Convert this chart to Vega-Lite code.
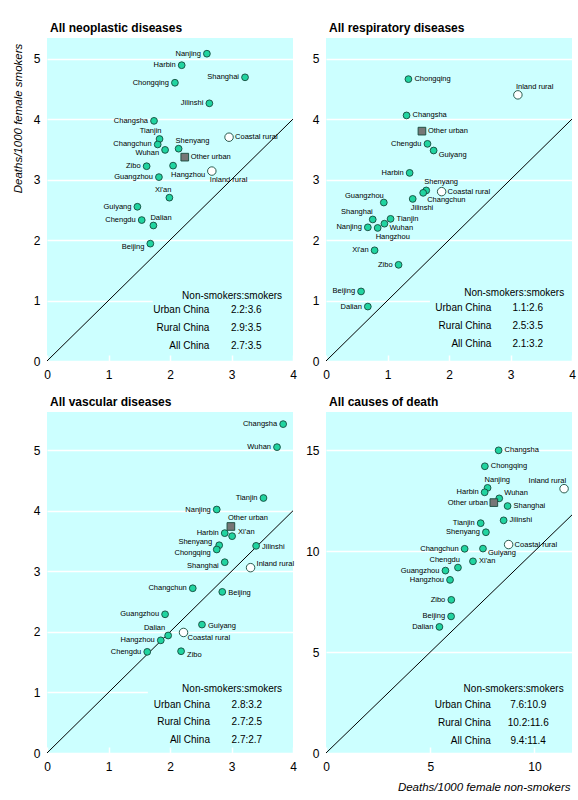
{
  "$schema": "https://vega.github.io/schema/vega-lite/v6.json",
  "padding": {"left": 12, "top": 22, "right": 5, "bottom": 5},
  "background": "#ffffff",
  "datasets": {
    "pts": [
      {"p": "neo", "name": "Nanjing", "type": "city", "x": 2.60, "y": 5.08},
      {"p": "neo", "name": "Harbin", "type": "city", "x": 2.19, "y": 4.89},
      {"p": "neo", "name": "Chongqing", "type": "city", "x": 2.08, "y": 4.60},
      {"p": "neo", "name": "Shanghai", "type": "city", "x": 3.22, "y": 4.69},
      {"p": "neo", "name": "Jilinshi", "type": "city", "x": 2.64, "y": 4.26},
      {"p": "neo", "name": "Changsha", "type": "city", "x": 1.74, "y": 3.97},
      {"p": "neo", "name": "Tianjin", "type": "city", "x": 1.83, "y": 3.67},
      {"p": "neo", "name": "Changchun", "type": "city", "x": 1.80, "y": 3.58},
      {"p": "neo", "name": "Wuhan", "type": "city", "x": 1.92, "y": 3.49},
      {"p": "neo", "name": "Shenyang", "type": "city", "x": 2.14, "y": 3.51},
      {"p": "neo", "name": "Other urban", "type": "other", "x": 2.24, "y": 3.37},
      {"p": "neo", "name": "Coastal rural", "type": "rural", "x": 2.96, "y": 3.70},
      {"p": "neo", "name": "Zibo", "type": "city", "x": 1.62, "y": 3.22},
      {"p": "neo", "name": "Hangzhou", "type": "city", "x": 2.05, "y": 3.23},
      {"p": "neo", "name": "Inland rural", "type": "rural", "x": 2.68, "y": 3.14},
      {"p": "neo", "name": "Guangzhou", "type": "city", "x": 1.82, "y": 3.04},
      {"p": "neo", "name": "Xi'an", "type": "city", "x": 1.99, "y": 2.70},
      {"p": "neo", "name": "Guiyang", "type": "city", "x": 1.47, "y": 2.55},
      {"p": "neo", "name": "Chengdu", "type": "city", "x": 1.54, "y": 2.33},
      {"p": "neo", "name": "Dalian", "type": "city", "x": 1.73, "y": 2.24},
      {"p": "neo", "name": "Beijing", "type": "city", "x": 1.68, "y": 1.94},

      {"p": "resp", "name": "Chongqing", "type": "city", "x": 1.34, "y": 4.66},
      {"p": "resp", "name": "Inland rural", "type": "rural", "x": 3.12, "y": 4.40},
      {"p": "resp", "name": "Changsha", "type": "city", "x": 1.31, "y": 4.06},
      {"p": "resp", "name": "Other urban", "type": "other", "x": 1.56, "y": 3.80},
      {"p": "resp", "name": "Chengdu", "type": "city", "x": 1.65, "y": 3.59},
      {"p": "resp", "name": "Guiyang", "type": "city", "x": 1.75, "y": 3.48},
      {"p": "resp", "name": "Harbin", "type": "city", "x": 1.36, "y": 3.11},
      {"p": "resp", "name": "Shenyang", "type": "city", "x": 1.63, "y": 2.82},
      {"p": "resp", "name": "Changchun", "type": "city", "x": 1.58, "y": 2.78},
      {"p": "resp", "name": "Coastal rural", "type": "rural", "x": 1.88, "y": 2.80},
      {"p": "resp", "name": "Jilinshi", "type": "city", "x": 1.41, "y": 2.68},
      {"p": "resp", "name": "Guangzhou", "type": "city", "x": 0.94, "y": 2.62},
      {"p": "resp", "name": "Shanghai", "type": "city", "x": 0.76, "y": 2.34},
      {"p": "resp", "name": "Tianjin", "type": "city", "x": 1.05, "y": 2.35},
      {"p": "resp", "name": "Nanjing", "type": "city", "x": 0.68, "y": 2.21},
      {"p": "resp", "name": "Hangzhou", "type": "city", "x": 0.84, "y": 2.20},
      {"p": "resp", "name": "Wuhan", "type": "city", "x": 0.95, "y": 2.27},
      {"p": "resp", "name": "Xi'an", "type": "city", "x": 0.79, "y": 1.83},
      {"p": "resp", "name": "Zibo", "type": "city", "x": 1.18, "y": 1.59},
      {"p": "resp", "name": "Beijing", "type": "city", "x": 0.57, "y": 1.15},
      {"p": "resp", "name": "Dalian", "type": "city", "x": 0.68, "y": 0.90},

      {"p": "vasc", "name": "Changsha", "type": "city", "x": 3.84, "y": 5.43},
      {"p": "vasc", "name": "Wuhan", "type": "city", "x": 3.74, "y": 5.05},
      {"p": "vasc", "name": "Tianjin", "type": "city", "x": 3.52, "y": 4.21},
      {"p": "vasc", "name": "Nanjing", "type": "city", "x": 2.76, "y": 4.02},
      {"p": "vasc", "name": "Other urban", "type": "other", "x": 2.99, "y": 3.74},
      {"p": "vasc", "name": "Harbin", "type": "city", "x": 2.89, "y": 3.63},
      {"p": "vasc", "name": "Xi'an", "type": "city", "x": 3.01, "y": 3.58},
      {"p": "vasc", "name": "Shenyang", "type": "city", "x": 2.80, "y": 3.43},
      {"p": "vasc", "name": "Chongqing", "type": "city", "x": 2.76, "y": 3.36},
      {"p": "vasc", "name": "Jilinshi", "type": "city", "x": 3.40, "y": 3.42},
      {"p": "vasc", "name": "Shanghai", "type": "city", "x": 2.89, "y": 3.15},
      {"p": "vasc", "name": "Inland rural", "type": "rural", "x": 3.31, "y": 3.06},
      {"p": "vasc", "name": "Changchun", "type": "city", "x": 2.37, "y": 2.72},
      {"p": "vasc", "name": "Beijing", "type": "city", "x": 2.85, "y": 2.66},
      {"p": "vasc", "name": "Guangzhou", "type": "city", "x": 1.92, "y": 2.29},
      {"p": "vasc", "name": "Guiyang", "type": "city", "x": 2.52, "y": 2.12},
      {"p": "vasc", "name": "Dalian", "type": "city", "x": 1.97, "y": 1.94},
      {"p": "vasc", "name": "Coastal rural", "type": "rural", "x": 2.22, "y": 1.99},
      {"p": "vasc", "name": "Hangzhou", "type": "city", "x": 1.85, "y": 1.86},
      {"p": "vasc", "name": "Chengdu", "type": "city", "x": 1.63, "y": 1.67},
      {"p": "vasc", "name": "Zibo", "type": "city", "x": 2.18, "y": 1.68},

      {"p": "all", "name": "Changsha", "type": "city", "x": 8.28, "y": 15.0},
      {"p": "all", "name": "Chongqing", "type": "city", "x": 7.62, "y": 14.21},
      {"p": "all", "name": "Nanjing", "type": "city", "x": 7.75, "y": 13.14},
      {"p": "all", "name": "Harbin", "type": "city", "x": 7.61, "y": 12.92},
      {"p": "all", "name": "Inland rural", "type": "rural", "x": 11.42, "y": 13.10},
      {"p": "all", "name": "Wuhan", "type": "city", "x": 8.31, "y": 12.62},
      {"p": "all", "name": "Other urban", "type": "other", "x": 8.05, "y": 12.41},
      {"p": "all", "name": "Shanghai", "type": "city", "x": 8.71, "y": 12.24},
      {"p": "all", "name": "Jilinshi", "type": "city", "x": 8.52, "y": 11.53},
      {"p": "all", "name": "Tianjin", "type": "city", "x": 7.42, "y": 11.39},
      {"p": "all", "name": "Shenyang", "type": "city", "x": 7.67, "y": 10.94},
      {"p": "all", "name": "Coastal rural", "type": "rural", "x": 8.76, "y": 10.33},
      {"p": "all", "name": "Changchun", "type": "city", "x": 6.65, "y": 10.12},
      {"p": "all", "name": "Guiyang", "type": "city", "x": 7.53, "y": 10.13},
      {"p": "all", "name": "Xi'an", "type": "city", "x": 7.05, "y": 9.50},
      {"p": "all", "name": "Chengdu", "type": "city", "x": 6.33, "y": 9.19},
      {"p": "all", "name": "Guangzhou", "type": "city", "x": 5.73, "y": 9.04},
      {"p": "all", "name": "Hangzhou", "type": "city", "x": 5.95, "y": 8.58},
      {"p": "all", "name": "Zibo", "type": "city", "x": 6.01, "y": 7.59},
      {"p": "all", "name": "Beijing", "type": "city", "x": 6.00, "y": 6.77},
      {"p": "all", "name": "Dalian", "type": "city", "x": 5.44, "y": 6.25}
    ]
  },
  "columns": 2,
  "spacing": {"row": 51, "column": 33},
  "bounds": "flush",
  "concat": [
    {
      "width": 246, "height": 323,
      "title": {"text": "All neoplastic diseases"},
      "data": {"name": "pts"},
      "transform": [{"filter": {"field": "p", "equal": "neo"}}],
      "encoding": {
        "x": {"field": "x", "type": "quantitative", "scale": {"domain": [0, 4], "nice": false}, "axis": {"values": [0, 1, 2, 3, 4], "title": null}},
        "y": {"field": "y", "type": "quantitative", "scale": {"domain": [0, 5.34], "nice": false}, "axis": {"values": [0, 1, 2, 3, 4, 5], "title": "Deaths/1000 female smokers", "titleX": -29, "titleY": 80, "titleAngle": -90, "titleAlign": "center", "titleBaseline": "middle"}}
      },
      "layer": [
        {"transform": [{"filter": {"field": "name", "equal": "Beijing"}}], "mark": {"type": "rect", "fill": "#ccffff"}, "encoding": {"x": {"datum": 1.72}, "x2": {"datum": 4}, "y": {"datum": 0.12}, "y2": {"datum": 1.35}}},
        {"transform": [{"filter": {"field": "name", "equal": "Beijing"}}], "mark": {"type": "rule", "color": "#000000", "strokeWidth": 1}, "encoding": {"x": {"datum": 0}, "y": {"datum": 0}, "x2": {"datum": 4}, "y2": {"datum": 4}}},
        {"mark": {"type": "point", "filled": true, "stroke": "#154a3c", "strokeWidth": 0.9, "opacity": 1},
         "encoding": {
           "shape": {"field": "type", "type": "nominal", "scale": {"domain": ["city", "other", "rural"], "range": ["circle", "square", "circle"]}, "legend": null},
           "fill": {"field": "type", "type": "nominal", "scale": {"domain": ["city", "other", "rural"], "range": ["#20d4a0", "#777777", "#ffffff"]}, "legend": null},
           "size": {"field": "type", "type": "ordinal", "scale": {"domain": ["city", "other", "rural"], "range": [46, 72, 46]}, "legend": null}}},
        {"transform": [{"filter": {"field": "name", "oneOf": ["Nanjing", "Harbin", "Chongqing", "Shanghai", "Jilinshi", "Changsha", "Changchun", "Zibo", "Guangzhou", "Guiyang", "Chengdu"]}}], "mark": {"type": "text", "align": "right", "dx": -6, "dy": 0}, "encoding": {"text": {"field": "name"}}},
        {"transform": [{"filter": {"field": "name", "oneOf": ["Wuhan", "Beijing"]}}], "mark": {"type": "text", "align": "right", "dx": -6, "dy": 3}, "encoding": {"text": {"field": "name"}}},
        {"transform": [{"filter": {"field": "name", "oneOf": ["Tianjin", "Xi'an"]}}], "mark": {"type": "text", "align": "right", "dx": 2, "dy": -8}, "encoding": {"text": {"field": "name"}}},
        {"transform": [{"filter": {"field": "name", "oneOf": ["Shenyang", "Dalian"]}}], "mark": {"type": "text", "align": "left", "dx": -3, "dy": -8}, "encoding": {"text": {"field": "name"}}},
        {"transform": [{"filter": {"field": "name", "oneOf": ["Hangzhou", "Inland rural"]}}], "mark": {"type": "text", "align": "left", "dx": -2, "dy": 9}, "encoding": {"text": {"field": "name"}}},
        {"transform": [{"filter": {"field": "name", "oneOf": ["Other urban", "Coastal rural"]}}], "mark": {"type": "text", "align": "left", "dx": 6, "dy": 0}, "encoding": {"text": {"field": "name"}}},
        {"transform": [{"filter": {"field": "name", "equal": "Beijing"}}], "mark": {"type": "text", "text": "Non-smokers:smokers", "align": "center", "baseline": "alphabetic", "fontSize": 10}, "encoding": {"x": {"datum": 3.01}, "y": {"datum": 1.03}}},
        {"transform": [{"filter": {"field": "name", "equal": "Beijing"}}], "mark": {"type": "text", "text": ["Urban China", "Rural China", "All China"], "align": "right", "baseline": "alphabetic", "fontSize": 10, "lineHeight": 17.8}, "encoding": {"x": {"datum": 2.64}, "y": {"datum": 0.79}}},
        {"transform": [{"filter": {"field": "name", "equal": "Beijing"}}], "mark": {"type": "text", "text": ["2.2:3.6", "2.9:3.5", "2.7:3.5"], "align": "center", "baseline": "alphabetic", "fontSize": 10, "lineHeight": 17.8}, "encoding": {"x": {"datum": 3.24}, "y": {"datum": 0.79}}}
      ]
    },
    {
      "width": 246, "height": 323,
      "title": {"text": "All respiratory diseases"},
      "data": {"name": "pts"},
      "transform": [{"filter": {"field": "p", "equal": "resp"}}],
      "encoding": {
        "x": {"field": "x", "type": "quantitative", "scale": {"domain": [0, 4], "nice": false}, "axis": {"values": [0, 1, 2, 3, 4], "title": null}},
        "y": {"field": "y", "type": "quantitative", "scale": {"domain": [0, 5.34], "nice": false}, "axis": {"values": [0, 1, 2, 3, 4, 5], "title": null}}
      },
      "layer": [
        {"transform": [{"filter": {"field": "name", "equal": "Beijing"}}], "mark": {"type": "rect", "fill": "#ccffff"}, "encoding": {"x": {"datum": 1.69}, "x2": {"datum": 4}, "y": {"datum": 0.12}, "y2": {"datum": 1.4}}},
        {"transform": [{"filter": {"field": "name", "equal": "Beijing"}}], "mark": {"type": "rule", "color": "#000000", "strokeWidth": 1}, "encoding": {"x": {"datum": 0}, "y": {"datum": 0}, "x2": {"datum": 4}, "y2": {"datum": 4}}},
        {"mark": {"type": "point", "filled": true, "stroke": "#154a3c", "strokeWidth": 0.9, "opacity": 1},
         "encoding": {
           "shape": {"field": "type", "type": "nominal", "scale": {"domain": ["city", "other", "rural"], "range": ["circle", "square", "circle"]}, "legend": null},
           "fill": {"field": "type", "type": "nominal", "scale": {"domain": ["city", "other", "rural"], "range": ["#20d4a0", "#777777", "#ffffff"]}, "legend": null},
           "size": {"field": "type", "type": "ordinal", "scale": {"domain": ["city", "other", "rural"], "range": [46, 72, 46]}, "legend": null}}},
        {"transform": [{"filter": {"field": "name", "oneOf": ["Chongqing", "Changsha", "Other urban", "Coastal rural", "Tianjin"]}}], "mark": {"type": "text", "align": "left", "dx": 6, "dy": 0}, "encoding": {"text": {"field": "name"}}},
        {"transform": [{"filter": {"field": "name", "oneOf": ["Chengdu", "Harbin", "Nanjing", "Xi'an", "Zibo", "Beijing", "Dalian"]}}], "mark": {"type": "text", "align": "right", "dx": -6, "dy": 0}, "encoding": {"text": {"field": "name"}}},
        {"transform": [{"filter": {"field": "name", "oneOf": ["Guangzhou", "Shanghai"]}}], "mark": {"type": "text", "align": "right", "dx": 0, "dy": -7}, "encoding": {"text": {"field": "name"}}},
        {"transform": [{"filter": {"field": "name", "oneOf": ["Inland rural", "Shenyang"]}}], "mark": {"type": "text", "align": "left", "dx": -2, "dy": -8}, "encoding": {"text": {"field": "name"}}},
        {"transform": [{"filter": {"field": "name", "oneOf": ["Guiyang", "Wuhan"]}}], "mark": {"type": "text", "align": "left", "dx": 5, "dy": 4}, "encoding": {"text": {"field": "name"}}},
        {"transform": [{"filter": {"field": "name", "oneOf": ["Changchun"]}}], "mark": {"type": "text", "align": "left", "dx": 4, "dy": 7}, "encoding": {"text": {"field": "name"}}},
        {"transform": [{"filter": {"field": "name", "oneOf": ["Jilinshi", "Hangzhou"]}}], "mark": {"type": "text", "align": "left", "dx": -2, "dy": 9}, "encoding": {"text": {"field": "name"}}},
        {"transform": [{"filter": {"field": "name", "equal": "Beijing"}}], "mark": {"type": "text", "text": "Non-smokers:smokers", "align": "center", "baseline": "alphabetic", "fontSize": 10}, "encoding": {"x": {"datum": 3.06}, "y": {"datum": 1.08}}},
        {"transform": [{"filter": {"field": "name", "equal": "Beijing"}}], "mark": {"type": "text", "text": ["Urban China", "Rural China", "All China"], "align": "right", "baseline": "alphabetic", "fontSize": 10, "lineHeight": 18}, "encoding": {"x": {"datum": 2.69}, "y": {"datum": 0.83}}},
        {"transform": [{"filter": {"field": "name", "equal": "Beijing"}}], "mark": {"type": "text", "text": ["1.1:2.6", "2.5:3.5", "2.1:3.2"], "align": "center", "baseline": "alphabetic", "fontSize": 10, "lineHeight": 18}, "encoding": {"x": {"datum": 3.28}, "y": {"datum": 0.83}}}
      ]
    },
    {
      "width": 246, "height": 341,
      "title": {"text": "All vascular diseases"},
      "data": {"name": "pts"},
      "transform": [{"filter": {"field": "p", "equal": "vasc"}}],
      "encoding": {
        "x": {"field": "x", "type": "quantitative", "scale": {"domain": [0, 4], "nice": false}, "axis": {"values": [0, 1, 2, 3, 4], "title": null}},
        "y": {"field": "y", "type": "quantitative", "scale": {"domain": [0, 5.63], "nice": false}, "axis": {"values": [0, 1, 2, 3, 4, 5], "title": null}}
      },
      "layer": [
        {"transform": [{"filter": {"field": "name", "equal": "Beijing"}}], "mark": {"type": "rect", "fill": "#ccffff"}, "encoding": {"x": {"datum": 1.64}, "x2": {"datum": 4}, "y": {"datum": 0.12}, "y2": {"datum": 1.35}}},
        {"transform": [{"filter": {"field": "name", "equal": "Beijing"}}], "mark": {"type": "rule", "color": "#000000", "strokeWidth": 1}, "encoding": {"x": {"datum": 0}, "y": {"datum": 0}, "x2": {"datum": 4}, "y2": {"datum": 4}}},
        {"mark": {"type": "point", "filled": true, "stroke": "#154a3c", "strokeWidth": 0.9, "opacity": 1},
         "encoding": {
           "shape": {"field": "type", "type": "nominal", "scale": {"domain": ["city", "other", "rural"], "range": ["circle", "square", "circle"]}, "legend": null},
           "fill": {"field": "type", "type": "nominal", "scale": {"domain": ["city", "other", "rural"], "range": ["#20d4a0", "#777777", "#ffffff"]}, "legend": null},
           "size": {"field": "type", "type": "ordinal", "scale": {"domain": ["city", "other", "rural"], "range": [46, 72, 46]}, "legend": null}}},
        {"transform": [{"filter": {"field": "name", "oneOf": ["Changsha", "Wuhan", "Tianjin", "Nanjing", "Harbin", "Changchun", "Guangzhou", "Hangzhou", "Chengdu"]}}], "mark": {"type": "text", "align": "right", "dx": -6, "dy": 0}, "encoding": {"text": {"field": "name"}}},
        {"transform": [{"filter": {"field": "name", "oneOf": ["Shenyang"]}}], "mark": {"type": "text", "align": "right", "dx": -7, "dy": -3}, "encoding": {"text": {"field": "name"}}},
        {"transform": [{"filter": {"field": "name", "oneOf": ["Chongqing", "Shanghai"]}}], "mark": {"type": "text", "align": "right", "dx": -6, "dy": 4}, "encoding": {"text": {"field": "name"}}},
        {"transform": [{"filter": {"field": "name", "oneOf": ["Jilinshi", "Beijing", "Guiyang"]}}], "mark": {"type": "text", "align": "left", "dx": 6, "dy": 1}, "encoding": {"text": {"field": "name"}}},
        {"transform": [{"filter": {"field": "name", "oneOf": ["Xi'an", "Inland rural"]}}], "mark": {"type": "text", "align": "left", "dx": 6, "dy": -4}, "encoding": {"text": {"field": "name"}}},
        {"transform": [{"filter": {"field": "name", "oneOf": ["Zibo"]}}], "mark": {"type": "text", "align": "left", "dx": 6, "dy": 4}, "encoding": {"text": {"field": "name"}}},
        {"transform": [{"filter": {"field": "name", "oneOf": ["Coastal rural"]}}], "mark": {"type": "text", "align": "left", "dx": 4, "dy": 6}, "encoding": {"text": {"field": "name"}}},
        {"transform": [{"filter": {"field": "name", "oneOf": ["Other urban"]}}], "mark": {"type": "text", "align": "left", "dx": -3, "dy": -8}, "encoding": {"text": {"field": "name"}}},
        {"transform": [{"filter": {"field": "name", "oneOf": ["Dalian"]}}], "mark": {"type": "text", "align": "right", "dx": -3, "dy": -7}, "encoding": {"text": {"field": "name"}}},
        {"transform": [{"filter": {"field": "name", "equal": "Beijing"}}], "mark": {"type": "text", "text": "Non-smokers:smokers", "align": "center", "baseline": "alphabetic", "fontSize": 10}, "encoding": {"x": {"datum": 3.01}, "y": {"datum": 1.0}}},
        {"transform": [{"filter": {"field": "name", "equal": "Beijing"}}], "mark": {"type": "text", "text": ["Urban China", "Rural China", "All China"], "align": "right", "baseline": "alphabetic", "fontSize": 10, "lineHeight": 17.8}, "encoding": {"x": {"datum": 2.65}, "y": {"datum": 0.75}}},
        {"transform": [{"filter": {"field": "name", "equal": "Beijing"}}], "mark": {"type": "text", "text": ["2.8:3.2", "2.7:2.5", "2.7:2.7"], "align": "center", "baseline": "alphabetic", "fontSize": 10, "lineHeight": 17.8}, "encoding": {"x": {"datum": 3.25}, "y": {"datum": 0.75}}}
      ]
    },
    {
      "width": 246, "height": 341,
      "title": {"text": "All causes of death"},
      "data": {"name": "pts"},
      "transform": [{"filter": {"field": "p", "equal": "all"}}],
      "encoding": {
        "x": {"field": "x", "type": "quantitative", "scale": {"domain": [0, 11.8], "nice": false}, "axis": {"values": [0, 5, 10], "title": "Deaths/1000 female non-smokers", "titleAnchor": "end", "titleAlign": "right", "titleX": 244, "titleY": 34, "titleBaseline": "middle"}},
        "y": {"field": "y", "type": "quantitative", "scale": {"domain": [0, 16.9], "nice": false}, "axis": {"values": [0, 5, 10, 15], "title": null}}
      },
      "layer": [
        {"transform": [{"filter": {"field": "name", "equal": "Beijing"}}], "mark": {"type": "rule", "color": "#000000", "strokeWidth": 1}, "encoding": {"x": {"datum": 0}, "y": {"datum": 0}, "x2": {"datum": 11.8}, "y2": {"datum": 11.8}}},
        {"mark": {"type": "point", "filled": true, "stroke": "#154a3c", "strokeWidth": 0.9, "opacity": 1},
         "encoding": {
           "shape": {"field": "type", "type": "nominal", "scale": {"domain": ["city", "other", "rural"], "range": ["circle", "square", "circle"]}, "legend": null},
           "fill": {"field": "type", "type": "nominal", "scale": {"domain": ["city", "other", "rural"], "range": ["#20d4a0", "#777777", "#ffffff"]}, "legend": null},
           "size": {"field": "type", "type": "ordinal", "scale": {"domain": ["city", "other", "rural"], "range": [46, 72, 46]}, "legend": null}}},
        {"transform": [{"filter": {"field": "name", "oneOf": ["Changsha", "Chongqing", "Shanghai", "Jilinshi", "Xi'an", "Coastal rural"]}}], "mark": {"type": "text", "align": "left", "dx": 6, "dy": 0}, "encoding": {"text": {"field": "name"}}},
        {"transform": [{"filter": {"field": "name", "oneOf": ["Harbin", "Other urban", "Tianjin", "Shenyang", "Changchun", "Guangzhou", "Hangzhou", "Zibo", "Beijing", "Dalian"]}}], "mark": {"type": "text", "align": "right", "dx": -6, "dy": 0}, "encoding": {"text": {"field": "name"}}},
        {"transform": [{"filter": {"field": "name", "oneOf": ["Nanjing"]}}], "mark": {"type": "text", "align": "left", "dx": -3, "dy": -8}, "encoding": {"text": {"field": "name"}}},
        {"transform": [{"filter": {"field": "name", "oneOf": ["Inland rural", "Chengdu"]}}], "mark": {"type": "text", "align": "right", "dx": 2, "dy": -8}, "encoding": {"text": {"field": "name"}}},
        {"transform": [{"filter": {"field": "name", "oneOf": ["Wuhan"]}}], "mark": {"type": "text", "align": "left", "dx": 5, "dy": -5}, "encoding": {"text": {"field": "name"}}},
        {"transform": [{"filter": {"field": "name", "oneOf": ["Guiyang"]}}], "mark": {"type": "text", "align": "left", "dx": 5, "dy": 4}, "encoding": {"text": {"field": "name"}}},
        {"transform": [{"filter": {"field": "name", "equal": "Beijing"}}], "mark": {"type": "text", "text": "Non-smokers:smokers", "align": "center", "baseline": "alphabetic", "fontSize": 10}, "encoding": {"x": {"datum": 9.0}, "y": {"datum": 3.0}}},
        {"transform": [{"filter": {"field": "name", "equal": "Beijing"}}], "mark": {"type": "text", "text": ["Urban China", "Rural China", "All China"], "align": "right", "baseline": "alphabetic", "fontSize": 10, "lineHeight": 18}, "encoding": {"x": {"datum": 7.91}, "y": {"datum": 2.24}}},
        {"transform": [{"filter": {"field": "name", "equal": "Beijing"}}], "mark": {"type": "text", "text": ["7.6:10.9", "10.2:11.6", "9.4:11.4"], "align": "center", "baseline": "alphabetic", "fontSize": 10, "lineHeight": 18}, "encoding": {"x": {"datum": 9.7}, "y": {"datum": 2.24}}}
      ]
    }
  ],
  "config": {
    "font": "Liberation Sans, Arial, sans-serif",
    "view": {"fill": "#ccffff", "stroke": null},
    "text": {"font": "Liberation Sans, Arial, sans-serif", "fontSize": 7.5, "baseline": "middle", "color": "#000000"},
    "title": {"anchor": "start", "frame": "group", "dx": 3, "fontSize": 12, "fontWeight": "bold", "font": "Liberation Sans, Arial, sans-serif", "offset": 3, "color": "#000000"},
    "axis": {"domain": false, "labelFont": "Liberation Sans, Arial, sans-serif", "labelFontSize": 12, "labelColor": "#000000", "labelFlush": false, "labelOverlap": false, "titleFont": "Liberation Sans, Arial, sans-serif", "titleFontStyle": "italic", "titleFontWeight": "normal", "titleFontSize": 11.5, "titleColor": "#000000", "gridColor": "#ffffff", "gridWidth": 1.5, "gridOpacity": 1},
    "axisX": {"grid": false, "ticks": true, "tickColor": "#ffffff", "tickSize": -6, "tickWidth": 1.5, "labelPadding": 14, "zindex": 1},
    "axisY": {"grid": true, "ticks": false, "labelPadding": 7}
  }
}
